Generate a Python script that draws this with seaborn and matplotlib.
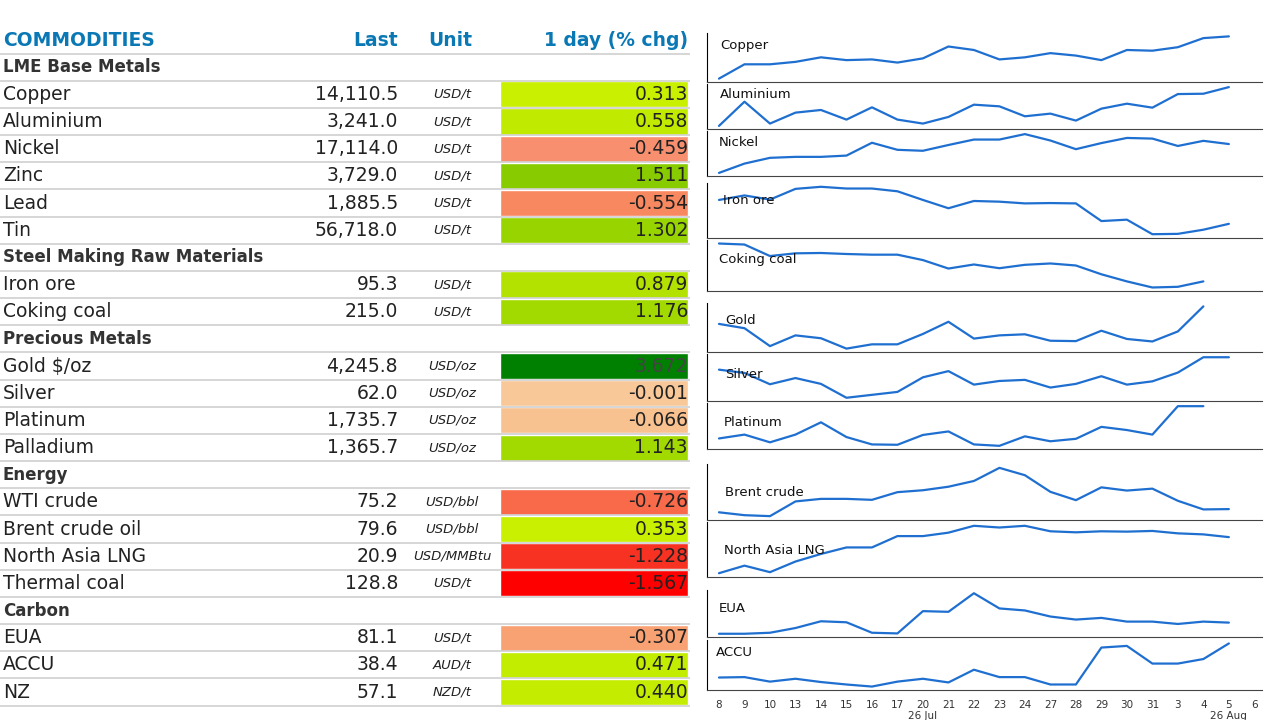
import matplotlib
matplotlib.use("Agg")
import matplotlib.pyplot as plt
import seaborn as sns
import pandas as pd
import numpy as np

sns.set_style("white")
plt.rcParams['font.family'] = ['DejaVu Sans']

# ---- table data ----
rows = [
    ("LME Base Metals", None, None, None),
    ("Copper", "14,110.5", "USD/t", 0.313),
    ("Aluminium", "3,241.0", "USD/t", 0.558),
    ("Nickel", "17,114.0", "USD/t", -0.459),
    ("Zinc", "3,729.0", "USD/t", 1.511),
    ("Lead", "1,885.5", "USD/t", -0.554),
    ("Tin", "56,718.0", "USD/t", 1.302),
    ("Steel Making Raw Materials", None, None, None),
    ("Iron ore", "95.3", "USD/t", 0.879),
    ("Coking coal", "215.0", "USD/t", 1.176),
    ("Precious Metals", None, None, None),
    ("Gold $/oz", "4,245.8", "USD/oz", 3.672),
    ("Silver", "62.0", "USD/oz", -0.001),
    ("Platinum", "1,735.7", "USD/oz", -0.066),
    ("Palladium", "1,365.7", "USD/oz", 1.143),
    ("Energy", None, None, None),
    ("WTI crude", "75.2", "USD/bbl", -0.726),
    ("Brent crude oil", "79.6", "USD/bbl", 0.353),
    ("North Asia LNG", "20.9", "USD/MMBtu", -1.228),
    ("Thermal coal", "128.8", "USD/t", -1.567),
    ("Carbon", None, None, None),
    ("EUA", "81.1", "USD/t", -0.307),
    ("ACCU", "38.4", "AUD/t", 0.471),
    ("NZ", "57.1", "NZD/t", 0.440),
]
cell_colors = {
    0.313: "#c8f000", 0.558: "#c0ea00", -0.459: "#f89070", 1.511: "#88cc00",
    -0.554: "#f88860", 1.302: "#98d400", 0.879: "#b4e200", 1.176: "#a2da00",
    3.672: "#008000", -0.001: "#f8c898", -0.066: "#f8c290", 1.143: "#a2da00",
    -0.726: "#f86a4a", 0.353: "#c8f000", -1.228: "#f83222", -1.567: "#ff0000",
    -0.307: "#f8a274", 0.471: "#c2ec00", 0.440: "#c4ec00",
}

# ---- sparkline data (relative levels) ----
days = ["8", "9", "10", "13", "14", "15", "16", "17", "20", "21", "22",
        "23", "24", "27", "28", "29", "30", "31", "3", "4", "5", "6"]
spark = {
    "Copper": [178,137,137,130,117,125,123,132,120,86,96,123,117,105,112,125,96,98,88,62,57],
    "Aluminium": [322,249,315,282,274,303,266,303,315,295,258,263,293,285,306,270,255,267,226,225,205],
    "Nickel": [464,435,417,414,414,410,370,392,395,377,360,360,343,363,390,371,355,357,380,364,374],
    "Iron ore": [541,528,540,509,503,508,508,516,541,565,544,546,551,550,551,602,598,640,639,627,610],
    "Coking coal": [678,681,715,707,706,709,711,711,727,752,740,751,741,737,743,769,790,808,806,790],
    "Gold": [68,80,130,100,108,137,125,125,96,62,109,100,97,115,116,87,110,117,89,19],
    "Silver": [216,225,256,239,255,293,285,277,237,220,257,247,244,265,255,234,257,248,224,182,182],
    "Platinum": [413,402,424,402,367,409,430,431,403,393,430,434,407,421,414,380,389,402,321,321],
    "Brent crude": [642,651,654,608,600,600,603,579,573,562,544,503,526,578,604,564,574,568,606,633,632],
    "North Asia LNG": [813,791,810,779,757,738,738,705,705,695,675,680,675,691,694,691,692,690,697,700,708],
    "EUA": [167,167,164,150,130,133,164,166,100,102,47,92,98,116,125,120,131,131,138,131,134],
    "ACCU": [270,269,280,273,281,287,292,280,273,282,251,269,269,287,287,197,193,236,236,225,187],
}
# panel boxes in pixels (top, bottom) and label position
panels = {
    "Copper": (33, 82, 720, 45), "Aluminium": (84, 129, 720, 95),
    "Nickel": (131, 176, 719, 142), "Iron ore": (183, 238, 723, 201),
    "Coking coal": (240, 291, 719, 259), "Gold": (303, 352, 725, 320),
    "Silver": (354, 401, 725, 374), "Platinum": (403, 449, 724, 422),
    "Brent crude": (464, 520, 725, 492), "North Asia LNG": (522, 577, 724, 550),
    "EUA": (590, 637, 719, 609), "ACCU": (640, 690, 716, 653),
}

W, H = 1280, 720
fig = plt.figure(figsize=(12.8, 7.2), dpi=100)

# ---- table ----
ax = fig.add_axes([0, 0, 700 / W, 1])
step = 27.17
ax.set_xlim(0, 700)
ax.set_ylim((H - 40) / step, -40 / step)
ax.axis("off")

blue = "#0a78b4"
ax.text(3, 0, "COMMODITIES", color=blue, fontsize=13.5, fontweight="bold", va="center")
ax.text(398, 0, "Last", color=blue, fontsize=13.5, fontweight="bold", va="center", ha="right")
ax.text(450, 0, "Unit", color=blue, fontsize=13.5, fontweight="bold", va="center", ha="center")
ax.text(688, 0, "1 day (% chg)", color=blue, fontsize=13.5, fontweight="bold", va="center", ha="right")
ax.hlines(0.5, 0, 690, color="#d0d0d0", lw=1.2)

for i, (name, last, unit, chg) in enumerate(rows, start=1):
    if last is None:
        ax.text(3, i, name, fontsize=12, fontweight="bold", color="#333333", va="center")
    else:
        ax.barh(i, 188, left=500, height=0.96, color=cell_colors[chg])
        ax.text(3, i, name, fontsize=13.5, color="#222222", va="center")
        ax.text(398, i, last, fontsize=13.5, color="#222222", va="center", ha="right")
        ax.text(452, i, unit, fontsize=9.5, style="italic", color="#222222", va="center", ha="center")
        tc = "#444444" if chg == 3.672 else "#222222"
        ax.text(688, i, f"{chg:.3f}", fontsize=13.5, color=tc, va="center", ha="right")
    ax.hlines(i + 0.5, 0, 690, color="#d0d0d0", lw=1.2)

# ---- sparklines ----
x0, x1 = 707, 1262
for k, (name, vals) in enumerate(spark.items()):
    top, bot, lx, ly = panels[name]
    sax = fig.add_axes([x0 / W, 1 - bot / H, (x1 - x0) / W, (bot - top) / H])
    df = pd.DataFrame({"x": np.arange(len(vals)), "y": [-v for v in vals]})
    sns.lineplot(data=df, x="x", y="y", ax=sax, color="#1f6fd0", lw=1.6)
    lo, hi = df.y.min(), df.y.max()
    pad = (hi - lo) * 0.08
    sax.set_ylim(lo - pad, hi + pad)
    sax.set_xlim(-0.47, 21.3)
    sax.set_yticks([])
    sax.set_xlabel("")
    sax.set_ylabel("")
    for s in ["top", "right"]:
        sax.spines[s].set_visible(False)
    sax.spines["left"].set_color("black")
    sax.spines["bottom"].set_color("#444444")
    sax.set_xticks(range(len(days)))
    if name == "ACCU":
        labels = [d if d not in ("20", "5") else d + "\n26 " + ("Jul" if d == "20" else "Aug") for d in days]
        sax.set_xticklabels(labels, fontsize=7.5, color="#333333", va="top")
        sax.tick_params(axis="x", length=3, color="#666666", pad=4)
    else:
        sax.set_xticklabels([])
        sax.tick_params(axis="x", length=0)
    fig.text(lx / W, 1 - ly / H, name, fontsize=9.5, color="#111111", va="center")

fig.savefig("out.png", dpi=100)
